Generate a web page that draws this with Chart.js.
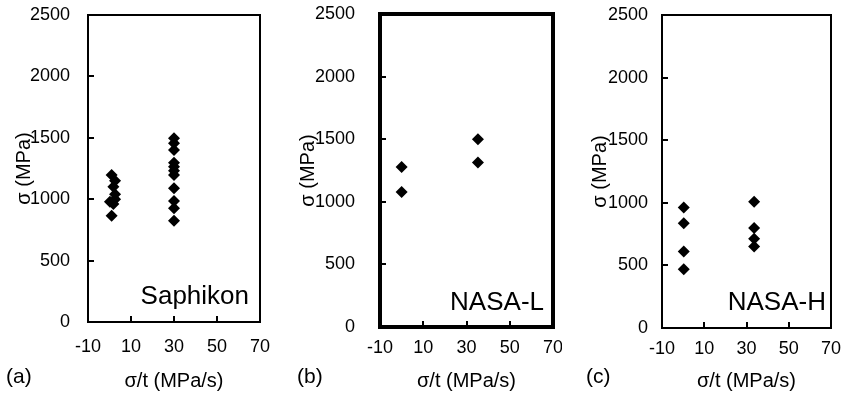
<!DOCTYPE html>
<html>
<head>
<meta charset="utf-8">
<script src="https://cdn.jsdelivr.net/npm/chart.js@4.4.1/dist/chart.umd.min.js"></script>
<style>
  body { margin: 0; background: #fff; }
  #wrap { position: relative; width: 843px; height: 393px; font-family: "Liberation Sans", Arial, sans-serif; }
  .panel { position: absolute; top: 0; width: 281px; height: 393px; }
  .tag { position: absolute; font-size: 21px; color: #000; }
  .name { position: absolute; font-size: 26px; color: #000; }
</style>
</head>
<body>
<div id="wrap">
  <div class="panel" style="left:0"><canvas id="chartA" width="281" height="393"></canvas></div>
  <div class="panel" style="left:281px"><canvas id="chartB" width="281" height="393"></canvas></div>
  <div class="panel" style="left:562px"><canvas id="chartC" width="281" height="393"></canvas></div>
  <span class="tag" style="left:6px;top:364px">(a)</span>
  <span class="tag" style="left:297px;top:364px">(b)</span>
  <span class="tag" style="left:586px;top:364px">(c)</span>
  <span class="name" style="right:594px;top:280px">Saphikon</span>
  <span class="name" style="right:299px;top:286px">NASA-L</span>
  <span class="name" style="right:17px;top:286px">NASA-H</span>
</div>
<script>
// stress rate (MPa/s) and strength (MPa) for each fibre
const saphikonRate = [1, 2.6, 1.8, 2.6, 2.6, 0.2, 1.8, 1,
                      30, 30, 30, 30, 30, 30, 30, 30, 30, 30, 30];
const saphikonStress = [1197, 1150, 1102, 1040, 1000, 980, 960, 865,
                        1496, 1455, 1400, 1297, 1265, 1232, 1197, 1089, 985, 926, 825];

const nasaLRate = [0, 0, 35.3, 35.3];
const nasaLStress = [1278, 1079, 1499, 1313];

const nasaHRate = [0.3, 0.3, 0.3, 0.3, 33.6, 33.6, 33.6, 33.6];
const nasaHStress = [963, 836, 612, 470, 1008, 798, 713, 651];

const xTicks = [-10, 10, 30, 50, 70];
const yTicks = [0, 500, 1000, 1500, 2000, 2500];

const FONT = "'Liberation Sans', Arial, sans-serif";

function toPoints(xs, ys) {
  return xs.map((x, i) => ({ x: x, y: ys[i] }));
}

function noPadding(s) {
  s.paddingLeft = 0;
  s.paddingRight = 0;
  s.paddingTop = 0;
  s.paddingBottom = 0;
}

// frame round the plot area plus inward tick marks
const framePlugin = {
  id: "frame",
  afterDraw(chart, args, opts) {
    const { ctx, chartArea: a, scales } = chart;
    ctx.save();
    ctx.strokeStyle = "#000";
    ctx.lineWidth = 2;
    xTicks.slice(1, -1).forEach(v => {
      const px = Math.round(scales.x.getPixelForValue(v));
      ctx.beginPath();
      ctx.moveTo(px, a.bottom);
      ctx.lineTo(px, a.bottom - 6);
      ctx.stroke();
    });
    yTicks.slice(1, -1).forEach(v => {
      const py = Math.round(scales.y.getPixelForValue(v));
      ctx.beginPath();
      ctx.moveTo(a.left, py);
      ctx.lineTo(a.left + 6, py);
      ctx.stroke();
    });
    ctx.lineWidth = opts.width;
    ctx.strokeRect(a.left, a.top, a.right - a.left, a.bottom - a.top);
    ctx.restore();
  }
};

function makePanel(id, xs, ys, box) {
  const ctx = document.getElementById(id).getContext("2d");
  return new Chart(ctx, {
    type: "scatter",
    data: {
      datasets: [{
        data: toPoints(xs, ys),
        pointStyle: "rectRot",
        pointRadius: 6,
        pointHoverRadius: 6,
        backgroundColor: "#000",
        borderColor: "#000",
        borderWidth: 0
      }]
    },
    options: {
      responsive: false,
      animation: false,
      events: [],
      layout: { padding: { left: 0, right: 281 - box.right, top: box.top, bottom: 0 } },
      plugins: {
        legend: { display: false },
        tooltip: { enabled: false },
        frame: { width: box.frame }
      },
      scales: {
        x: {
          type: "linear",
          min: -10,
          max: 70,
          afterBuildTicks: s => { s.ticks = xTicks.map(v => ({ value: v })); },
          afterFit: s => { s.height = 393 - box.bottom; noPadding(s); },
          grid: { display: false },
          border: { display: false },
          ticks: { color: "#000", font: { family: FONT, size: 18 }, padding: box.xPad, callback: v => String(v) },
          title: {
            display: true,
            text: "σ/t (MPa/s)",
            color: "#000",
            font: { family: FONT, size: 20 },
            padding: { top: 0, bottom: 0 }
          }
        },
        y: {
          type: "linear",
          min: 0,
          max: 2500,
          afterBuildTicks: s => { s.ticks = yTicks.map(v => ({ value: v })); },
          afterFit: s => { s.width = box.left; noPadding(s); },
          grid: { display: false },
          border: { display: false },
          ticks: { color: "#000", font: { family: FONT, size: 18 }, padding: box.yPad, callback: v => String(v) },
          title: {
            display: true,
            text: "σ (MPa)",
            color: "#000",
            font: { family: FONT, size: 20 },
            padding: { top: box.titlePad, bottom: 0 }
          }
        }
      }
    },
    plugins: [framePlugin]
  });
}

makePanel("chartA", saphikonRate, saphikonStress,
  { left: 88, right: 260, top: 15, bottom: 322, xPad: 6, yPad: 10, titlePad: 12, frame: 2 });
makePanel("chartB", nasaLRate, nasaLStress,
  { left: 99, right: 272, top: 14, bottom: 327, xPad: 2, yPad: 17, titlePad: 15, frame: 4 });
makePanel("chartC", nasaHRate, nasaHStress,
  { left: 100, right: 269, top: 15, bottom: 328, xPad: 2, yPad: 6, titlePad: 26, frame: 2 });
</script>
</body>
</html>
